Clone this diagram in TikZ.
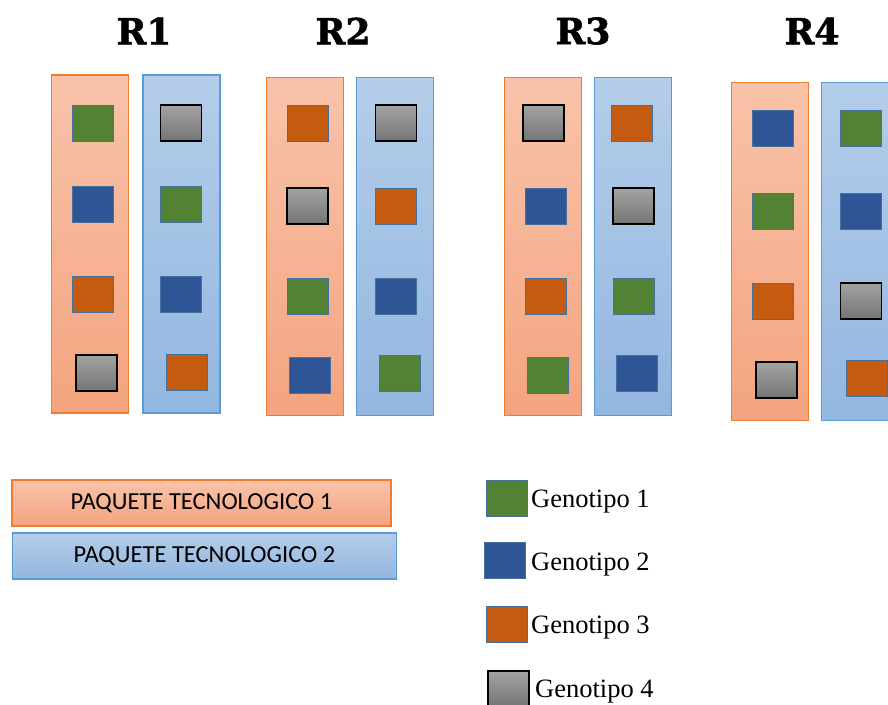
\documentclass[tikz,border=0pt]{standalone}
\usepackage{fontspec}
\setmainfont{Liberation Serif}
\newfontfamily\pkgfont{Carlito}
\newfontfamily\repfont[BoldFeatures={FakeBold=1.6}]{DejaVu Serif}
\definecolor{ptaTop}{HTML}{F8C3AA}
\definecolor{ptaBot}{HTML}{F4A47F}
\definecolor{ptaLine}{HTML}{ED7D31}
\definecolor{ptbTop}{HTML}{B4CDE9}
\definecolor{ptbBot}{HTML}{93B7E1}
\definecolor{ptbLine}{HTML}{5B9BD5}
\definecolor{genGreen}{HTML}{548235}
\definecolor{genBlue}{HTML}{2F5597}
\definecolor{genOrange}{HTML}{C55A11}
\definecolor{genLine}{HTML}{41719C}
\definecolor{grayTop}{HTML}{A3A3A3}
\definecolor{grayBot}{HTML}{757575}
\begin{document}
\begin{tikzpicture}[x=1pt,y=-1pt,
  strip/.style={draw, line width=1.3pt, minimum width=77pt, minimum height=338pt, inner sep=0pt},
  pta/.style={strip, top color=ptaTop, bottom color=ptaBot, draw=ptaLine},
  ptb/.style={strip, top color=ptbTop, bottom color=ptbBot, draw=ptbLine},
  gen/.style={draw=genLine, line width=1pt, minimum width=41pt, minimum height=36pt, inner sep=0pt},
  gA/.style={gen, fill=genGreen},
  gB/.style={gen, fill=genBlue},
  gC/.style={gen, fill=genOrange},
  gD/.style={gen, draw=black, line width=1.6pt, top color=grayTop, bottom color=grayBot},
  rep/.style={font=\repfont\bfseries\fontsize{36}{40}\selectfont},
  pkg/.style={draw, line width=1.2pt, minimum height=46pt, inner sep=0pt, font=\pkgfont\fontsize{24.5}{28}\selectfont},
  leg/.style={anchor=base west, inner sep=0pt, font=\fontsize{26.5}{30}\selectfont}
]
\useasboundingbox (0,0) rectangle (888,704);
% replicates
\node[rep] (t1) at (144,31) {R1};
\node[rep] (t2) at (343,31) {R2};
\node[rep] (t3) at (583,31) {R3};
\node[rep] (t4) at (812,31) {R4};
% R1
\node[pta] (r1a) at (90,244)    {};
\node[ptb] (r1b) at (181.5,244) {};
\node[gA] (r1a1) at (92.5,123) {};
\node[gB] (r1a2) at (92.5,204) {};
\node[gC] (r1a3) at (92.5,294) {};
\node[gD] (r1a4) at (96.5,373) {};
\node[gD] (r1b1) at (181,123)   {};
\node[gA] (r1b2) at (181,204)   {};
\node[gB] (r1b3) at (181,294)   {};
\node[gC] (r1b4) at (186.5,372) {};
% R2
\node[pta] (r2a) at (305,246.5) {};
\node[ptb] (r2b) at (395,246.5) {};
\node[gC] (r2a1) at (307.5,123) {};
\node[gD] (r2a2) at (307.5,206) {};
\node[gA] (r2a3) at (307.5,296) {};
\node[gB] (r2a4) at (309.5,375) {};
\node[gD] (r2b1) at (396,123)   {};
\node[gC] (r2b2) at (396,206)   {};
\node[gB] (r2b3) at (396,296)   {};
\node[gA] (r2b4) at (399.5,373) {};
% R3
\node[pta] (r3a) at (543,246.5) {};
\node[ptb] (r3b) at (633,246.5) {};
\node[gD] (r3a1) at (543.5,123) {};
\node[gB] (r3a2) at (545.5,206) {};
\node[gC] (r3a3) at (545.5,296) {};
\node[gA] (r3a4) at (547.5,375) {};
\node[gC] (r3b1) at (631.5,123) {};
\node[gD] (r3b2) at (633.5,206) {};
\node[gA] (r3b3) at (633.5,296) {};
\node[gB] (r3b4) at (637,373)   {};
% R4
\node[pta] (r4a) at (770,251.5) {};
\node[ptb] (r4b) at (860,251.5) {};
\node[gB] (r4a1) at (772.5,128) {};
\node[gA] (r4a2) at (772.5,211) {};
\node[gC] (r4a3) at (772.5,301) {};
\node[gD] (r4a4) at (776.5,380) {};
\node[gA] (r4b1) at (861,128)   {};
\node[gB] (r4b2) at (861,211)   {};
\node[gD] (r4b3) at (861,301)   {};
\node[gC] (r4b4) at (866.5,378) {};
% paquetes
\node[pkg, minimum width=379pt, top color=ptaTop, bottom color=ptaBot, draw=ptaLine] (pk1) at (201.5,503) {PAQUETE TECNOLOGICO 1};
\node[pkg, minimum width=384pt, top color=ptbTop, bottom color=ptbBot, draw=ptbLine] (pk2) at (204.5,556) {PAQUETE TECNOLOGICO 2};
% genotipos
\node[gA] (k1) at (507,498.5) {};
\node[gB] (k2) at (505,560)   {};
\node[gC] (k3) at (507,624)   {};
\node[gD] (k4) at (508.5,689) {};
\node[leg] (l1) at (531,507) {Genotipo 1};
\node[leg] (l2) at (531,570) {Genotipo 2};
\node[leg] (l3) at (531,633) {Genotipo 3};
\node[leg] (l4) at (535,697) {Genotipo 4};
\end{tikzpicture}
\end{document}
